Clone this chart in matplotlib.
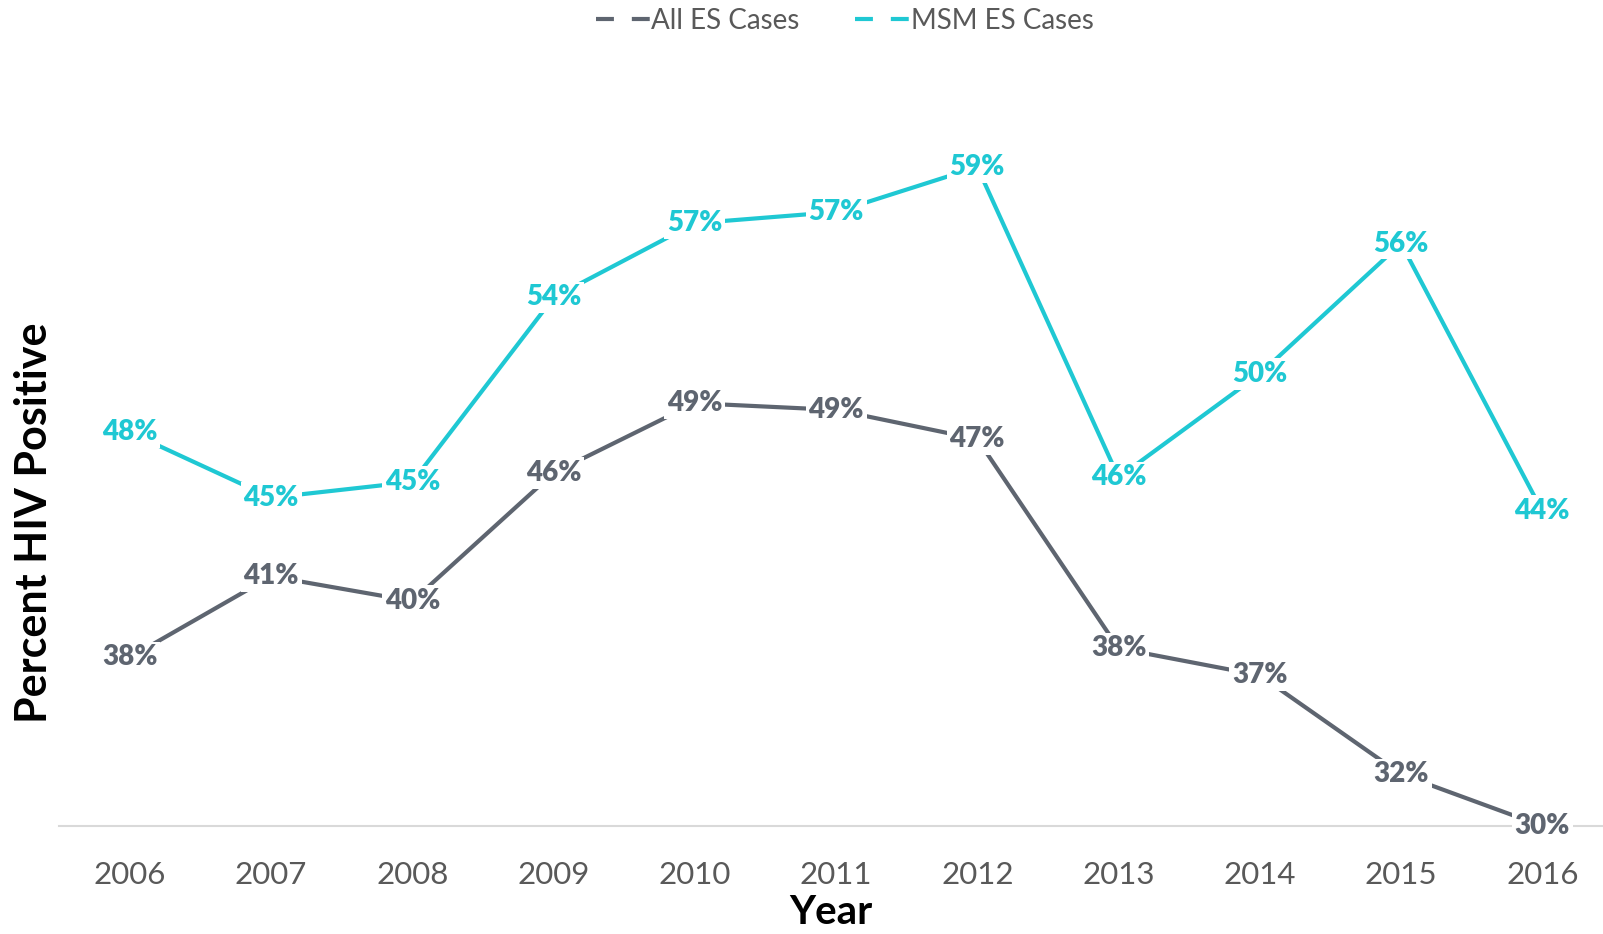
import matplotlib.pyplot as plt
from matplotlib.lines import Line2D

# data
years = ['2006', '2007', '2008', '2009', '2010', '2011', '2012', '2013', '2014', '2015', '2016']
all_es = [37.6, 41.2, 40.1, 45.8, 48.9, 48.6, 47.3, 38.0, 36.8, 32.4, 30.1]
msm_es = [47.6, 44.7, 45.4, 53.6, 56.9, 57.4, 59.4, 45.6, 50.2, 56.0, 44.1]
series_names = ['All ES Cases', 'MSM ES Cases']

gray = '#5E6570'
cyan = '#1FC8D3'
plt.rcParams['font.family'] = ['Lato', 'DejaVu Sans']

fig = plt.figure(figsize=(16.03, 9.34), dpi=100)
ax = fig.add_axes([0.037, 0.1156, 0.963, 0.7754])

x = list(range(len(years)))
for vals, col in [(all_es, gray), (msm_es, cyan)]:
    ax.plot(x, vals, color=col, lw=3, solid_capstyle='butt', zorder=2)
    for xi, v in zip(x, vals):
        ax.text(xi, v, f'{v:.0f}%', color=col, fontsize=20, fontweight='heavy',
                ha='center', va='center', zorder=3,
                bbox=dict(facecolor='white', edgecolor='none', pad=2))

ax.set_xlim(-0.5, 10.43)
ax.set_ylim(30.1, 62.3)
ax.set_xticks(x)
ax.set_xticklabels(years, fontsize=22.5, color='#595959')
ax.set_yticks([])
ax.tick_params(axis='x', length=0, pad=25)
for s in ['top', 'right', 'left']:
    ax.spines[s].set_visible(False)
ax.spines['bottom'].set_color('#D9D9D9')
ax.spines['bottom'].set_linewidth(1.5)
ax.spines['bottom'].set_zorder(1)

ax.set_xlabel('Year', fontsize=29, fontweight='bold', labelpad=4)
fig.text(0.021, 0.44, 'Percent HIV Positive', rotation=90, fontsize=31,
         fontweight='bold', ha='center', va='center')

handles = [Line2D([0], [0], color=gray, lw=3, dashes=[4.3, 4.3]),
           Line2D([0], [0], color=cyan, lw=3, dashes=[4.3, 4.3])]
fig.legend(handles, series_names, loc='upper center', bbox_to_anchor=(0.527, 1.018),
           ncol=2, frameon=False, fontsize=20, handlelength=1.95, handletextpad=0.05,
           columnspacing=2.0, labelcolor='#595959')

fig.savefig('out.png', dpi=100)
